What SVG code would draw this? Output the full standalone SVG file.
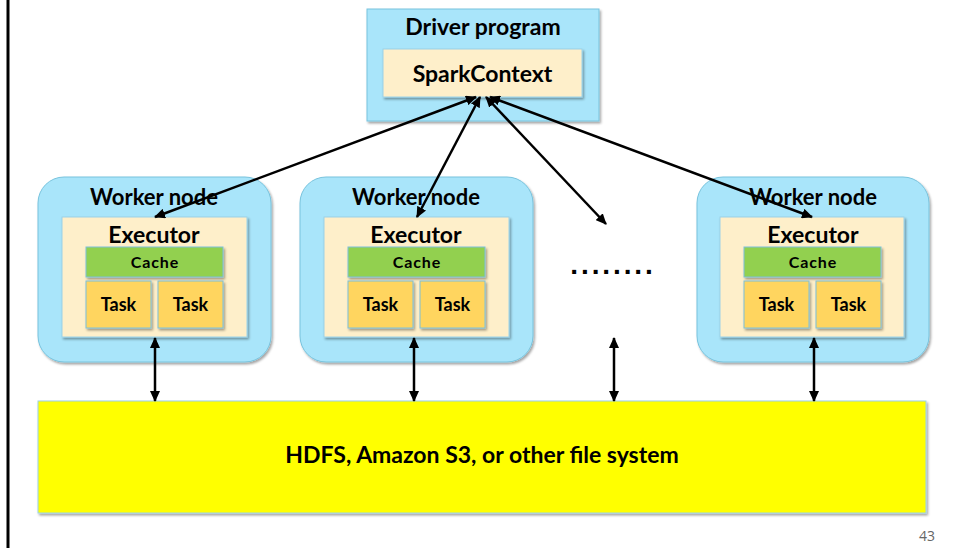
<svg xmlns="http://www.w3.org/2000/svg" width="954" height="548" viewBox="0 0 954 548">
  <defs>
    <style>
      .t { font-family: Lato, "Open Sans", "Liberation Sans", sans-serif; font-weight: bold; fill: #000; text-anchor: middle; }
      .big { font-size: 23px; }
      .wn { font-size: 22px; }
      .cache { font-size: 16px; letter-spacing: 0.9px; }
      .task { font-size: 18px; }
      .worker { fill: #A9E5FA; stroke: #78C3DD; stroke-width: 1; }
      .exec { fill: #FEEFCA; stroke: #9CD2E8; stroke-width: 1; }
      .cachebox { fill: #92D050; stroke: #7CC0DA; stroke-width: 1; }
      .taskbox { fill: #FFD55F; stroke: #7CC0DA; stroke-width: 1; }
      .conn { stroke: #000; stroke-width: 2.5; fill: none; marker-start: url(#ah); marker-end: url(#ah); }
    </style>
    <marker id="ah" markerUnits="userSpaceOnUse" markerWidth="11" markerHeight="10" refX="10" refY="5" orient="auto-start-reverse">
      <path d="M0,0 L11,5 L0,10 z" fill="#000"/>
    </marker>
    <filter id="sh" x="-10%" y="-10%" width="125%" height="130%">
      <feDropShadow dx="1.5" dy="2" stdDeviation="1.2" flood-color="#000" flood-opacity="0.35"/>
    </filter>
  </defs>

  <rect width="954" height="548" fill="#FFFFFF"/>
  <line id="left-border" x1="8" y1="0" x2="8" y2="548" stroke="#000" stroke-width="3"/>

  <g id="driver">
    <rect x="367" y="9" width="232" height="112" class="worker" filter="url(#sh)"/>
    <text x="483" y="35" class="t big">Driver program</text>
    <rect x="383" y="49" width="199" height="48" class="exec" filter="url(#sh)"/>
    <text x="482.5" y="82" class="t big">SparkContext</text>
  </g>

  <g id="worker1" transform="translate(38,177)">
    <rect x="0" y="0" width="233" height="185" rx="26" class="worker" filter="url(#sh)"/>
    <text x="116" y="28" class="t wn">Worker node</text>
    <rect x="24" y="40" width="185" height="120" class="exec" filter="url(#sh)"/>
    <text x="116" y="66" class="t big">Executor</text>
    <rect x="48" y="70" width="137" height="30" class="cachebox" filter="url(#sh)"/>
    <text x="117" y="91" class="t cache">Cache</text>
    <rect x="48" y="104" width="65" height="47" class="taskbox" filter="url(#sh)"/>
    <text x="80.5" y="134" class="t task">Task</text>
    <rect x="120" y="104" width="65" height="47" class="taskbox" filter="url(#sh)"/>
    <text x="152.5" y="134" class="t task">Task</text>
  </g>

  <g id="worker2" transform="translate(300,177)">
    <rect x="0" y="0" width="233" height="185" rx="26" class="worker" filter="url(#sh)"/>
    <text x="116" y="28" class="t wn">Worker node</text>
    <rect x="24" y="40" width="185" height="120" class="exec" filter="url(#sh)"/>
    <text x="116" y="66" class="t big">Executor</text>
    <rect x="48" y="70" width="137" height="30" class="cachebox" filter="url(#sh)"/>
    <text x="117" y="91" class="t cache">Cache</text>
    <rect x="48" y="104" width="65" height="47" class="taskbox" filter="url(#sh)"/>
    <text x="80.5" y="134" class="t task">Task</text>
    <rect x="120" y="104" width="65" height="47" class="taskbox" filter="url(#sh)"/>
    <text x="152.5" y="134" class="t task">Task</text>
  </g>

  <g id="worker3" transform="translate(697,177)">
    <rect x="0" y="0" width="232" height="185" rx="26" class="worker" filter="url(#sh)"/>
    <text x="116" y="28" class="t wn">Worker node</text>
    <rect x="23" y="40" width="184" height="120" class="exec" filter="url(#sh)"/>
    <text x="116" y="66" class="t big">Executor</text>
    <rect x="47" y="70" width="137" height="30" class="cachebox" filter="url(#sh)"/>
    <text x="116" y="91" class="t cache">Cache</text>
    <rect x="47" y="104" width="65" height="47" class="taskbox" filter="url(#sh)"/>
    <text x="79.5" y="134" class="t task">Task</text>
    <rect x="119" y="104" width="65" height="47" class="taskbox" filter="url(#sh)"/>
    <text x="151.5" y="134" class="t task">Task</text>
  </g>

  <g id="ellipsis">
    <text x="613" y="274" class="t" style="font-size:28px; letter-spacing:2.9px; font-family:'Liberation Sans', sans-serif;">........</text>
  </g>

  <g id="storage">
    <rect x="38" y="401" width="888" height="112" fill="#FFFF00" stroke="#9CD2E8" stroke-width="1" filter="url(#sh)"/>
    <text x="482" y="463" class="t big">HDFS, Amazon S3, or other file system</text>
  </g>

  <g id="connectors">
    <line x1="476" y1="97" x2="155" y2="217" class="conn"/>
    <line x1="480" y1="97" x2="417" y2="217" class="conn"/>
    <line x1="486" y1="97" x2="606" y2="224" class="conn"/>
    <line x1="490" y1="97" x2="812" y2="217" class="conn"/>
    <line x1="155" y1="338" x2="155" y2="401" class="conn"/>
    <line x1="414" y1="338" x2="414" y2="401" class="conn"/>
    <line x1="614" y1="338" x2="614" y2="401" class="conn"/>
    <line x1="814" y1="338" x2="814" y2="401" class="conn"/>
  </g>

  <text id="page-number" x="935" y="541" style="font-family:'Open Sans','Liberation Sans',sans-serif; font-size:14px; fill:#666; text-anchor:end;">43</text>
</svg>
